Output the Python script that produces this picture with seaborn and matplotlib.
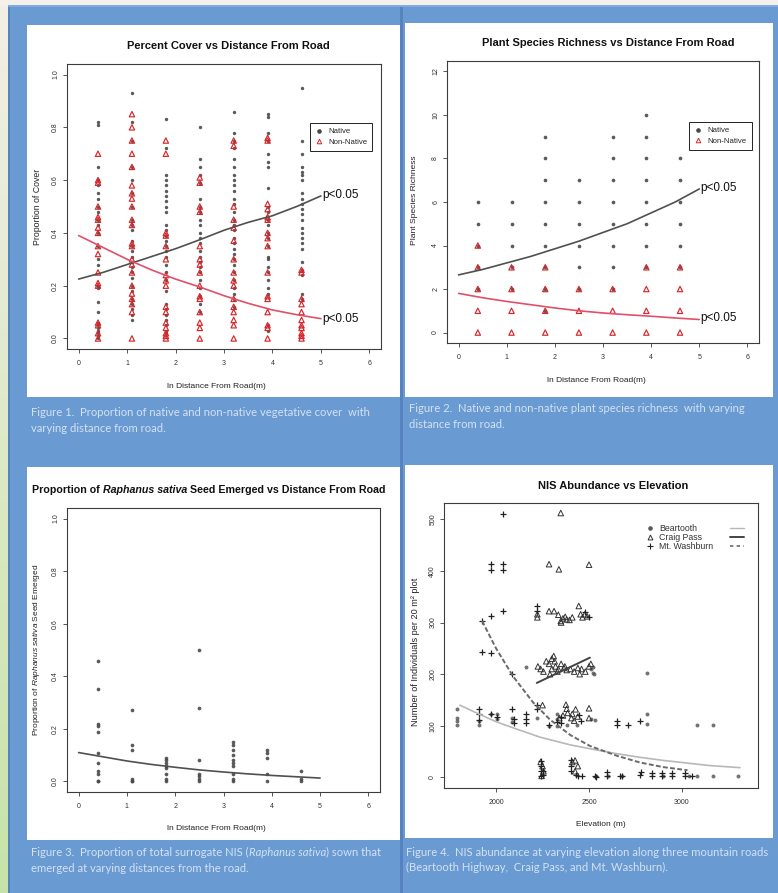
import numpy as np
import pandas as pd
import matplotlib
matplotlib.use("Agg")
import matplotlib.pyplot as plt
import seaborn as sns
from matplotlib.patches import Rectangle
from matplotlib.lines import Line2D

# ---------------- data ----------------
DIST = [0.4, 1.1, 1.8, 2.5, 3.2, 3.9, 4.6]

cover_native = [
    [0.82, 0.81, 0.65, 0.60, 0.58, 0.55, 0.53, 0.50, 0.48, 0.45, 0.43, 0.40, 0.35, 0.30, 0.28, 0.20, 0.19, 0.14, 0.10, 0.06, 0.05, 0.04, 0.03, 0.02, 0.01, 0.0],
    [0.93, 0.82, 0.75, 0.65, 0.60, 0.55, 0.50, 0.45, 0.43, 0.41, 0.37, 0.35, 0.33, 0.31, 0.29, 0.27, 0.25, 0.23, 0.20, 0.18, 0.15, 0.13, 0.11, 0.09, 0.07],
    [0.83, 0.72, 0.62, 0.60, 0.58, 0.56, 0.54, 0.52, 0.50, 0.48, 0.43, 0.41, 0.39, 0.37, 0.35, 0.33, 0.31, 0.28, 0.25, 0.22, 0.18, 0.13, 0.11, 0.09, 0.07, 0.05, 0.03, 0.02],
    [0.80, 0.68, 0.65, 0.62, 0.59, 0.53, 0.50, 0.48, 0.45, 0.43, 0.40, 0.38, 0.36, 0.33, 0.31, 0.29, 0.27, 0.25, 0.22, 0.19, 0.16, 0.13, 0.10],
    [0.86, 0.78, 0.75, 0.72, 0.68, 0.65, 0.62, 0.60, 0.58, 0.56, 0.53, 0.51, 0.48, 0.45, 0.43, 0.41, 0.38, 0.36, 0.34, 0.32, 0.30, 0.28, 0.25, 0.22, 0.19, 0.17, 0.15, 0.12],
    [0.85, 0.84, 0.78, 0.75, 0.70, 0.67, 0.65, 0.57, 0.50, 0.48, 0.45, 0.43, 0.40, 0.38, 0.35, 0.31, 0.30, 0.27, 0.25, 0.22, 0.19, 0.17, 0.05, 0.03],
    [0.95, 0.75, 0.70, 0.65, 0.63, 0.62, 0.60, 0.55, 0.53, 0.51, 0.49, 0.47, 0.45, 0.42, 0.40, 0.38, 0.36, 0.34, 0.29, 0.26, 0.24, 0.17, 0.15],
]
cover_nonnative = [
    [0.70, 0.60, 0.59, 0.50, 0.46, 0.45, 0.42, 0.40, 0.35, 0.32, 0.25, 0.21, 0.20, 0.06, 0.05, 0.02, 0.0],
    [0.85, 0.80, 0.75, 0.70, 0.65, 0.58, 0.55, 0.53, 0.50, 0.45, 0.43, 0.36, 0.35, 0.30, 0.28, 0.25, 0.20, 0.17, 0.15, 0.13, 0.10, 0.0],
    [0.75, 0.70, 0.40, 0.39, 0.35, 0.30, 0.24, 0.22, 0.20, 0.12, 0.10, 0.06, 0.04, 0.02, 0.01, 0.0],
    [0.61, 0.59, 0.50, 0.48, 0.35, 0.30, 0.28, 0.25, 0.20, 0.16, 0.15, 0.10, 0.06, 0.04, 0.0],
    [0.75, 0.73, 0.50, 0.45, 0.42, 0.37, 0.30, 0.25, 0.22, 0.20, 0.15, 0.12, 0.10, 0.07, 0.05, 0.0],
    [0.76, 0.75, 0.51, 0.49, 0.46, 0.45, 0.40, 0.38, 0.35, 0.25, 0.16, 0.15, 0.10, 0.05, 0.04, 0.0],
    [0.26, 0.25, 0.15, 0.13, 0.10, 0.07, 0.05, 0.04, 0.02, 0.01, 0.0],
]

rich_native = [
    [6, 5, 4, 3, 2],
    [6, 5, 4, 3, 2],
    [9, 8, 7, 6, 5, 4, 3, 2, 1],
    [7, 6, 5, 4, 3, 2],
    [9, 8, 7, 6, 5, 4, 3, 2],
    [10, 9, 8, 7, 6, 5, 4, 3],
    [8, 7, 6, 5, 4, 3],
]
rich_nonnative = [
    [4, 3, 2, 1, 0],
    [3, 2, 1, 0],
    [3, 2, 1, 0],
    [2, 1, 0],
    [2, 1, 0],
    [3, 2, 1, 0],
    [3, 2, 1, 0],
]

seed_emerged = [
    [0.46, 0.35, 0.22, 0.21, 0.19, 0.11, 0.07, 0.04, 0.03, 0.0, 0.0],
    [0.27, 0.14, 0.12, 0.01, 0.0, 0.0],
    [0.09, 0.08, 0.07, 0.06, 0.05, 0.03, 0.01, 0.0],
    [0.50, 0.28, 0.08, 0.03, 0.02, 0.01, 0.0],
    [0.15, 0.14, 0.12, 0.10, 0.08, 0.07, 0.06, 0.03, 0.01, 0.0],
    [0.12, 0.11, 0.09, 0.03, 0.0],
    [0.04, 0.01, 0.0],
]

# fitted curves
FIT_X = [0, 0.5, 1, 1.5, 2, 2.5, 3, 3.5, 4, 4.5, 5]
cover_native_fit = [0.225, 0.25, 0.28, 0.31, 0.34, 0.374, 0.41, 0.44, 0.465, 0.50, 0.54]
cover_nonnative_fit = [0.39, 0.345, 0.30, 0.26, 0.225, 0.195, 0.162, 0.133, 0.108, 0.09, 0.075]
rich_native_fit = [2.65, 2.9, 3.2, 3.5, 3.85, 4.2, 4.6, 5.0, 5.5, 6.0, 6.6]
rich_nonnative_fit = [1.8, 1.6, 1.43, 1.28, 1.13, 1.0, 0.9, 0.82, 0.75, 0.67, 0.6]
seed_fit = [0.11, 0.094, 0.078, 0.065, 0.054, 0.044, 0.036, 0.029, 0.023, 0.018, 0.013]

beartooth_elev = [1792, 1792, 1792, 1792, 1909, 1909, 1971, 2005, 2005, 2086, 2086, 2160, 2220, 2285, 2328, 2328, 2328, 2383, 2436, 2509, 2509, 2527, 2523, 2523, 2532, 2810, 2810, 2810, 3079, 3167, 3167, 3301, 3079, 3040, 2900, 2680, 2600, 2540]
beartooth_n = [133, 116, 109, 101, 101, 109, 122, 122, 113, 116, 107, 213, 115, 100, 122, 113, 100, 101, 101, 113, 210, 200, 213, 203, 112, 203, 122, 103, 101, 101, 3, 3, 3, 3, 3, 2, 2, 2]

craig_elev = [2348, 2285, 2338, 2500, 2222, 2222, 2285, 2312, 2335, 2348, 2360, 2372, 2380, 2395, 2410, 2445, 2455, 2465, 2478, 2490, 2350,
              2225, 2240, 2255, 2270, 2285, 2300, 2310, 2320, 2335, 2350, 2365, 2380, 2400, 2420, 2440, 2460, 2480, 2500, 2510, 2290, 2330, 2370, 2450, 2300, 2315,
              2376, 2380, 2385, 2405, 2410, 2420, 2428, 2440, 2500, 2500, 2250, 2360, 2340,
              2240, 2250, 2255, 2245, 2410, 2425, 2440, 2425]
craig_n = [512, 413, 403, 412, 316, 310, 322, 322, 315, 303, 308, 311, 306, 305, 310, 332, 316, 310, 316, 312, 300,
           215, 210, 205, 225, 220, 230, 235, 215, 210, 220, 212, 208, 210, 205, 212, 210, 205, 215, 220, 200, 205, 215, 200, 210, 225,
           141, 133, 125, 115, 123, 110, 132, 118, 134, 115, 140, 120, 115,
           30, 22, 12, 3, 30, 33, 22, 12]

washburn_elev = [1971, 1971, 2038, 2038, 2038, 1971, 2038, 1926, 1971, 2088, 1925, 2222, 2222, 1909, 1909, 1909, 1971, 2005, 2088, 2095, 2095, 2160, 2160, 2160,
                 2222, 2222, 2285, 2330, 2350, 2350, 2240, 2240, 2240, 2240, 2255, 2255, 2401, 2401, 2401, 2428, 2440, 2463, 2536, 2532, 2595, 2595,
                 2649, 2649, 2712, 2774, 2774, 2780, 2837, 2837, 2891, 2891, 2945, 2945, 3016, 3016, 3052, 2665, 2676, 2445, 2455, 2500, 2480]
washburn_n = [413, 402, 413, 402, 510, 313, 322, 243, 241, 201, 303, 332, 322, 132, 122, 112, 122, 118, 132, 113, 105, 122, 113, 105,
              141, 133, 102, 108, 118, 105, 32, 22, 12, 3, 12, 5, 33, 22, 12, 5, 3, 3, 1, 2, 10, 2,
              109, 101, 101, 110, 5, 10, 8, 2, 8, 2, 8, 2, 8, 2, 2, 3, 3, 120, 110, 310, 320]

beartooth_fit_elev = [1806, 1900, 2000, 2100, 2237, 2400, 2500, 2650, 2774, 2900, 3000, 3150, 3312]
beartooth_fit_n = [140, 124, 108, 95, 78, 63, 56, 46, 39, 33, 29, 23, 19]
craig_fit_elev = [2219, 2505]
craig_fit_n = [183, 232]
washburn_fit_elev = [1925, 2000, 2091, 2200, 2290, 2400, 2505, 2650, 2774, 2900, 3030]
washburn_fit_n = [303, 250, 196, 145, 112, 82, 61, 42, 29, 20, 14]

# ---------------- style ----------------
sns.set_theme(style="white")
plt.rcParams["font.family"] = ["Liberation Sans", "DejaVu Sans"]
plt.rcParams["mathtext.fontset"] = "custom"
plt.rcParams["mathtext.rm"] = "Liberation Sans"
plt.rcParams["mathtext.it"] = "Liberation Sans:italic"

W, H = 778, 893
BLUE = "#6a9ad2"
BLUE_DARK = "#5683c0"
CAP = "#d3e2f4"
RED = "#d8262a"
RED_LINE = "#e0506a"
DARK = "#484848"

fig = plt.figure(figsize=(W / 100, H / 100), dpi=100)
fig.patch.set_facecolor(BLUE)


def fx(px):
    return px / W


def fy(py):
    return 1 - py / H


def rect(l, t, r, b, color, z=0):
    fig.add_artist(Rectangle((fx(l), fy(b)), (r - l) / W, (b - t) / H,
                             transform=fig.transFigure, facecolor=color,
                             edgecolor="none", zorder=z))


# left strip gradient and top strip
grad_ax = fig.add_axes([0, 0, 8 / W, 1])
grad = np.linspace(0, 1, 200).reshape(-1, 1)
top_c = np.array([0.95, 0.94, 0.90])
bot_c = np.array([0.78, 0.89, 0.66])
img = top_c[None, None, :] * (1 - grad[:, :, None]) + bot_c[None, None, :] * grad[:, :, None]
grad_ax.imshow(img, aspect="auto", extent=[0, 1, 0, 1], origin="upper")
grad_ax.set_axis_off()
rect(0, 0, W, 5, "#f3f1ea", z=1)
rect(8, 5, 10, H, BLUE_DARK, z=1)
rect(8, 5, W, 7, "#7fabe0", z=1)
rect(400.5, 7, 403.5, H, BLUE_DARK, z=1)

# white panels
rect(27, 25, 400, 397, "white", z=1)
rect(405, 23, 773, 397, "white", z=1)
rect(27, 467, 400, 840, "white", z=1)
rect(405, 465, 773, 838, "white", z=1)


def axes_px(l, t, r, b):
    ax = fig.add_axes([fx(l), fy(b), (r - l) / W, (b - t) / H])
    ax.set_facecolor("white")
    ax.set_zorder(3)
    for s in ax.spines.values():
        s.set_visible(True)
        s.set_color("#3c3c3c")
        s.set_linewidth(0.8)
    ax.tick_params(direction="out", length=2.6, width=0.6, color="#3c3c3c",
                   labelsize=5, labelcolor="#303030", bottom=True, left=True)
    ax.tick_params(axis="x", pad=5)
    ax.tick_params(axis="y", pad=3, labelrotation=90)
    return ax


def long_df(cols):
    return pd.DataFrame([(d, v) for d, vals in zip(DIST, cols) for v in vals], columns=["x", "y"])


def ftext(px, py, s, **kw):
    kw.setdefault("ha", "center")
    kw.setdefault("va", "center")
    return fig.text(fx(px), fy(py), s, zorder=5, **kw)


renderer = fig.canvas.get_renderer()


def pieces_text(px, py, pieces, **common):
    x = px
    for s, kw in pieces:
        t = fig.text(fx(x), fy(py), s, ha="left", va="center", zorder=5, **common, **kw)
        bb = t.get_window_extent(renderer)
        x += bb.width


TITLE_FS = 8.0
LEG_KW = dict(loc="upper left", fontsize=5.6, frameon=True, fancybox=False, edgecolor="#222",
              framealpha=1, borderpad=0.65, handlelength=1.0, handletextpad=0.7,
              labelspacing=0.4, borderaxespad=0)

# ---------------- panel 1 ----------------
ax1 = axes_px(67, 64, 381, 349)
sns.scatterplot(data=long_df(cover_native), x="x", y="y", ax=ax1, color=DARK,
                marker="o", s=6, linewidth=0, alpha=0.9)
sns.scatterplot(data=long_df(cover_nonnative), x="x", y="y", ax=ax1, color=RED,
                marker="^", s=15, facecolor="none", edgecolor=RED, linewidth=0.85)
sns.lineplot(x=FIT_X, y=cover_native_fit, ax=ax1, color="#505050", lw=1.2)
sns.lineplot(x=FIT_X, y=cover_nonnative_fit, ax=ax1, color=RED_LINE, lw=1.2)
ax1.set_xlim(-0.24, 6.24)
ax1.set_ylim(-0.04, 1.04)
ax1.set_xticks(range(0, 7))
ax1.set_yticks([0, 0.2, 0.4, 0.6, 0.8, 1.0])
ax1.set_yticklabels(["0.0", "0.2", "0.4", "0.6", "0.8", "1.0"], rotation=90, va="center")
ax1.set_xlabel("")
ax1.set_ylabel("")
ax1.text(5.03, cover_native_fit[-1] + 0.005, "p<0.05", fontsize=8.5, ha="left", va="center", color="#111")
ax1.text(5.03, cover_nonnative_fit[-1] - 0.003, "p<0.05", fontsize=8.5, ha="left", va="center", color="#111")
h1 = [Line2D([], [], ls="", marker="o", color=DARK, markersize=2.3),
      Line2D([], [], ls="", marker="^", mfc="none", mec=RED, markersize=3.3, mew=0.7)]
ax1.legend(h1, ["Native", "Non-Native"], bbox_to_anchor=(0.774, 0.793), **LEG_KW).get_frame().set_linewidth(0.7)
ftext(228, 46, "Percent Cover vs Distance From Road", fontsize=TITLE_FS, fontweight="bold", color="#111")
ftext(216, 386, "ln Distance From Road(m)", fontsize=6, color="#222")
ftext(37, 207, "Proportion of Cover", fontsize=6.3, rotation=90, color="#222")

# ---------------- panel 2 ----------------
ax2 = axes_px(447, 61, 759, 343)
sns.scatterplot(data=long_df(rich_native), x="x", y="y", ax=ax2, color=DARK,
                marker="o", s=7, linewidth=0, alpha=0.9)
sns.scatterplot(data=long_df(rich_nonnative), x="x", y="y", ax=ax2, color=RED,
                marker="^", s=15, facecolor="none", edgecolor=RED, linewidth=0.85)
sns.lineplot(x=FIT_X, y=rich_native_fit, ax=ax2, color="#505050", lw=1.2)
sns.lineplot(x=FIT_X, y=rich_nonnative_fit, ax=ax2, color=RED_LINE, lw=1.2)
ax2.set_xlim(-0.24, 6.24)
ax2.set_ylim(-0.48, 12.48)
ax2.set_xticks(range(0, 7))
ax2.set_yticks(range(0, 13, 2))
ax2.set_yticklabels([str(v) for v in range(0, 13, 2)], rotation=90, va="center")
ax2.set_xlabel("")
ax2.set_ylabel("")
ax2.text(5.03, rich_native_fit[-1] + 0.05, "p<0.05", fontsize=8.5, ha="left", va="center", color="#111")
ax2.text(5.03, rich_nonnative_fit[-1] + 0.05, "p<0.05", fontsize=8.5, ha="left", va="center", color="#111")
ax2.legend(h1, ["Native", "Non-Native"], bbox_to_anchor=(0.776, 0.784), **LEG_KW).get_frame().set_linewidth(0.7)
ftext(608, 43, "Plant Species Richness vs Distance From Road", fontsize=TITLE_FS, fontweight="bold", color="#111")
ftext(596, 381, "ln Distance From Road(m)", fontsize=6, color="#222")
ftext(415, 200, "Plant Species Richness", fontsize=6.1, rotation=90, color="#222")

# ---------------- panel 3 ----------------
ax3 = axes_px(67, 508, 380, 792)
sns.scatterplot(data=long_df(seed_emerged), x="x", y="y", ax=ax3, color=DARK,
                marker="o", s=7, linewidth=0, alpha=0.9)
sns.lineplot(x=FIT_X, y=seed_fit, ax=ax3, color="#505050", lw=1.2)
ax3.set_xlim(-0.24, 6.24)
ax3.set_ylim(-0.04, 1.04)
ax3.set_xticks(range(0, 7))
ax3.set_yticks([0, 0.2, 0.4, 0.6, 0.8, 1.0])
ax3.set_yticklabels(["0.0", "0.2", "0.4", "0.6", "0.8", "1.0"], rotation=90, va="center")
ax3.set_xlabel("")
ax3.set_ylabel("")
pieces_text(32, 490, [("Proportion of ", {}), ("Raphanus sativa", {"style": "italic"}),
                      (" Seed Emerged vs Distance From Road", {})],
            fontsize=7.7, fontweight="bold", color="#111")
ftext(216, 828, "ln Distance From Road(m)", fontsize=6, color="#222")
ftext(37, 650, r"Proportion of $\mathit{Raphanus\ sativa}$ Seed Emerged", fontsize=6.0,
      rotation=90, color="#222")

# ---------------- panel 4 ----------------
ax4 = axes_px(444, 503, 758, 788)
sns.scatterplot(x=beartooth_elev, y=beartooth_n, ax=ax4, color="#5a5a5a",
                marker="o", s=8, linewidth=0, alpha=0.85)
sns.scatterplot(x=craig_elev, y=craig_n, ax=ax4, color="#333333",
                marker="^", s=16, facecolor="none", edgecolor="#333333", linewidth=0.7)
sns.scatterplot(x=washburn_elev, y=washburn_n, ax=ax4, color="#222222",
                marker="+", s=22, linewidth=0.9)
sns.lineplot(x=beartooth_fit_elev, y=beartooth_fit_n, ax=ax4, color="#b8b8b8", lw=1.2)
sns.lineplot(x=craig_fit_elev, y=craig_fit_n, ax=ax4, color="#444444", lw=1.4)
sns.lineplot(x=washburn_fit_elev, y=washburn_fit_n, ax=ax4, color="#6a6a6a", lw=1.4)
ax4.lines[-1].set_linestyle((0, (2.5, 1.2)))
ax4.set_xlim(1720, 3409)
ax4.set_ylim(-20.4, 531.4)
ax4.set_xticks([2000, 2500, 3000])
ax4.set_yticks([0, 100, 200, 300, 400, 500])
ax4.set_yticklabels(["0", "100", "200", "300", "400", "500"], rotation=90, va="center")
ax4.set_xlabel("")
ax4.set_ylabel("")
h4 = [Line2D([], [], ls="", marker="o", color="#5a5a5a", markersize=2.3),
      Line2D([], [], ls="", marker="^", mfc="none", mec="#333", markersize=3.5, mew=0.7),
      Line2D([], [], ls="", marker="+", color="#222", markersize=4, mew=0.8)]
leg4 = ax4.legend(h4, ["Beartooth", "Craig Pass", "Mt. Washburn"], loc="upper left",
                  bbox_to_anchor=(0.635, 0.94), fontsize=6.3, frameon=False,
                  handlelength=0.8, handletextpad=0.6, labelspacing=0.02, borderaxespad=0,
                  labelcolor="#333")
ax4.add_artist(leg4)
h4b = [Line2D([], [], color="#b8b8b8", lw=1.0),
       Line2D([], [], color="#444", lw=1.4),
       Line2D([], [], color="#6a6a6a", lw=1.2, ls=(0, (2, 2)))]
ax4.legend(h4b, ["", "", ""], loc="upper left", bbox_to_anchor=(0.9, 0.94), fontsize=6.3,
           frameon=False, handlelength=1.6, handletextpad=0, labelspacing=0.02, borderaxespad=0)
ftext(613, 486, "NIS Abundance vs Elevation", fontsize=TITLE_FS, fontweight="bold", color="#111")
ftext(601, 824, "Elevation (m)", fontsize=6, color="#222")
ftext(415, 652, "Number of Individuals per 20 m\u00b2 plot", fontsize=6.6, rotation=90, color="#222")

# ---------------- captions ----------------
capkw = dict(fontsize=8.1, color=CAP, family=["Lato", "DejaVu Sans"])
ftext(31, 413, "Figure 1.  Proportion of native and non-native vegetative cover  with", ha="left", **capkw)
ftext(31, 428, "varying distance from road.", ha="left", **capkw)
ftext(409, 409, "Figure 2.  Native and non-native plant species richness  with varying", ha="left", **capkw)
ftext(409, 424, "distance from road.", ha="left", **capkw)
pieces_text(31, 852, [("Figure 3.  Proportion of total surrogate NIS (", {}),
                      ("Raphanus sativa", {"style": "italic"}),
                      (") sown that", {})], **capkw)
ftext(31, 868, "emerged at varying distances from the road.", ha="left", **capkw)
ftext(406, 852, "Figure 4.  NIS abundance at varying elevation along three mountain roads", ha="left", **capkw)
ftext(406, 867, "(Beartooth Highway,  Craig Pass, and Mt. Washburn).", ha="left", **capkw)

fig.savefig("out.png", dpi=100, facecolor=fig.get_facecolor())
